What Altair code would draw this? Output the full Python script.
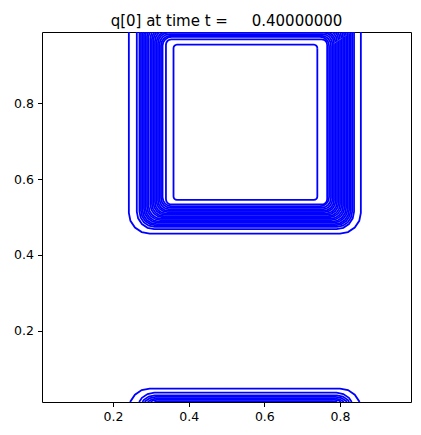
import math
import altair as alt
import pandas as pd

# Contour levels, ordered outermost -> innermost.
# Positions (data units) of each contour's left / right / bottom / top side,
# plus the corner rounding radius.  Top sides above 1 wrap (periodic domain).
left_x = [0.242, 0.263, 0.270, 0.274, 0.278, 0.282, 0.286, 0.290, 0.294, 0.299,
          0.303, 0.307, 0.311, 0.315, 0.319, 0.323, 0.327, 0.331, 0.340, 0.360]
right_x = [0.855, 0.837, 0.832, 0.828, 0.824, 0.820, 0.816, 0.812, 0.808, 0.804,
           0.800, 0.796, 0.792, 0.788, 0.784, 0.780, 0.776, 0.771, 0.766, 0.740]
bottom_y = [0.456, 0.468, 0.474, 0.478, 0.481, 0.485, 0.488, 0.492, 0.495, 0.499,
            0.502, 0.506, 0.509, 0.513, 0.516, 0.520, 0.524, 0.528, 0.533, 0.545]
top_y = [1.048, 1.037, 1.030, 1.026, 1.022, 1.019, 1.015, 1.011, 1.008, 1.004,
         1.000, 0.997, 0.993, 0.989, 0.986, 0.982, 0.978, 0.975, 0.968, 0.954]
corner_r = [0.055, 0.046, 0.040, 0.039, 0.038, 0.037, 0.036, 0.035, 0.034, 0.033,
            0.032, 0.031, 0.030, 0.029, 0.028, 0.027, 0.026, 0.024, 0.014, 0.009]

x_ticks = [0.2, 0.4, 0.6, 0.8]
y_ticks = [0.2, 0.4, 0.6, 0.8]
domain = [0.0125, 0.9875]
title_text = "q[0] at time t =\u00a0\u00a0\u00a0\u00a0\u00a00.40000000"


def clip_y(pts, lo, hi):
    """Split a polyline into the pieces lying inside lo <= y <= hi."""
    pieces, cur = [], []
    for (x0, y0), (x1, y1) in zip(pts[:-1], pts[1:]):
        t0, t1 = 0.0, 1.0
        dy = y1 - y0
        if dy == 0:
            if y0 < lo or y0 > hi:
                t0, t1 = 1.0, 0.0
        else:
            ta, tb = (lo - y0) / dy, (hi - y0) / dy
            t0, t1 = max(t0, min(ta, tb)), min(t1, max(ta, tb))
        if t0 > t1:
            if cur:
                pieces.append(cur)
                cur = []
            continue
        a = (x0 + t0 * (x1 - x0), y0 + t0 * dy)
        b = (x0 + t1 * (x1 - x0), y0 + t1 * dy)
        if not cur:
            cur = [a]
        cur.append(b)
        if t1 < 1.0:
            pieces.append(cur)
            cur = []
    if cur:
        pieces.append(cur)
    return pieces


rows = []
cid = 0
for k in range(len(left_x)):
    x0, x1, y0, y1, r = left_x[k], right_x[k], bottom_y[k], top_y[k], corner_r[k]
    corners = [(x1 - r, y1 - r, 0), (x0 + r, y1 - r, 90),
               (x0 + r, y0 + r, 180), (x1 - r, y0 + r, 270)]
    pts = []
    for cx, cy, a0 in corners:
        for s in range(5):
            a = math.radians(a0 + 90 * s / 4)
            pts.append((cx + r * math.cos(a), cy + r * math.sin(a)))
    pts.append(pts[0])
    for shift in (0.0, -1.0):
        shifted = [(px, py + shift) for px, py in pts]
        for piece in clip_y(shifted, domain[0], domain[1]):
            for i, (px, py) in enumerate(piece):
                rows.append({"c": cid, "i": i, "x": px, "y": py})
            cid += 1

df = pd.DataFrame(rows)

chart = (
    alt.Chart(df)
    .mark_line(clip=True, color="#0000ff", strokeWidth=1.8)
    .encode(
        x=alt.X("x:Q", scale=alt.Scale(domain=domain, nice=False, zero=False),
                axis=alt.Axis(values=x_ticks, format=".1f", title=None)),
        y=alt.Y("y:Q", scale=alt.Scale(domain=domain, nice=False, zero=False),
                axis=alt.Axis(values=y_ticks, format=".1f", title=None)),
        detail="c:N",
        order="i:Q",
    )
    .properties(
        width=369,
        height=370,
        title=alt.TitleParams(title_text, font="DejaVu Sans", fontSize=15,
                              fontWeight="normal", color="black", anchor="middle",
                              baseline="alphabetic", offset=8, dy=17),
        autosize=alt.AutoSizeParams(type="none"),
        padding={"left": 34, "top": 24, "right": 2, "bottom": 25},
    )
    .configure_view(stroke="black", strokeWidth=1)
    .configure_axis(
        grid=False, domain=False, tickColor="black", tickSize=4.5, tickWidth=1,
        labelFont="DejaVu Sans", labelFontSize=12.5, labelColor="black",
        labelPadding=4,
    )
)

chart.save("out.html", embed_options={"renderer": "svg", "actions": False})
